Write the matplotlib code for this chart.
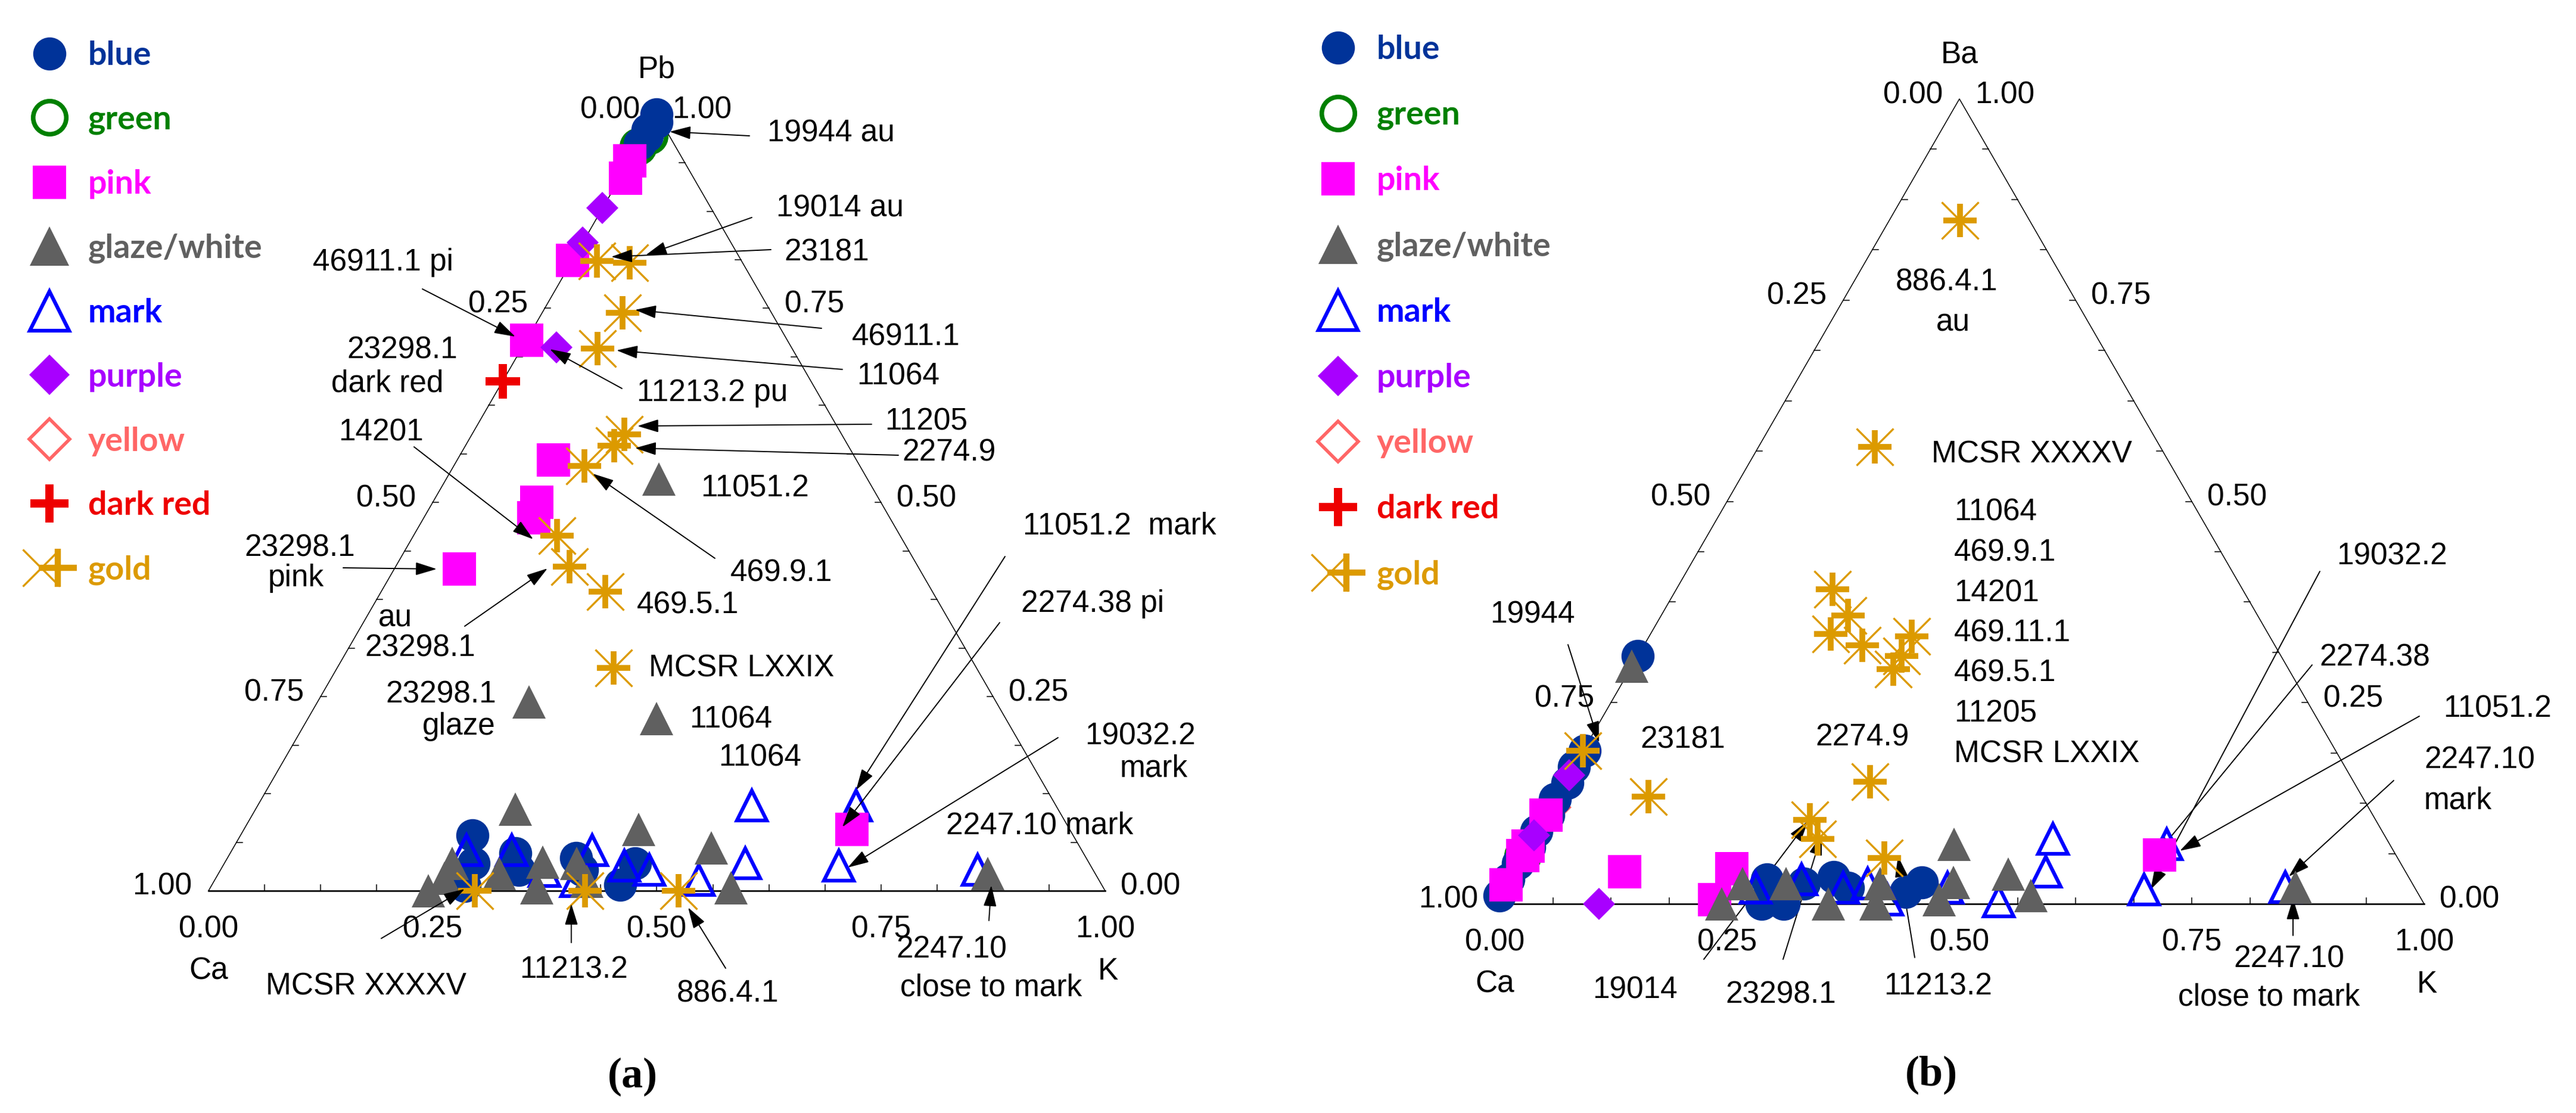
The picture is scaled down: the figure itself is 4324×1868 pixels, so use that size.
import numpy as np
import matplotlib
matplotlib.use("Agg")
import matplotlib.pyplot as plt
from matplotlib.lines import Line2D
from matplotlib.legend_handler import HandlerTuple

plt.rcParams['font.family'] = ['Liberation Sans', 'DejaVu Sans']

FW, FH = 4324, 1868
R3 = np.sqrt(3) / 2

# data
# fractions of K and of the apex element (Pb in a, Ba in b); Ca = 1 - K - apex
a_blue_k = [0.000, 0.005, 0.000, 0.003, 0.000, 0.259, 0.278, 0.283, 0.318, 0.333, 0.389, 0.403, 0.455, 0.458]
a_blue_pb = [1.000, 0.990, 0.980, 0.972, 0.962, 0.071, 0.035, 0.006, 0.048, 0.027, 0.042, 0.027, 0.008, 0.035]
a_green_k = [0.000, 0.006]
a_green_pb = [0.958, 0.972]
a_pink_k = [0.000, 0.006, 0.000, 0.000, 0.107, 0.116, 0.123, 0.073, 0.678]
a_pink_pb = [0.940, 0.918, 0.812, 0.709, 0.555, 0.500, 0.480, 0.414, 0.079]
a_glaze_k = [0.237, 0.236, 0.389, 0.290, 0.245, 0.254, 0.313, 0.364, 0.354, 0.393, 0.416, 0.440, 0.533, 0.581, 0.858, 0.255]
a_glaze_pb = [0.530, 0.243, 0.222, 0.105, 0.000, 0.035, 0.022, 0.004, 0.037, 0.035, 0.012, 0.079, 0.055, 0.004, 0.022, 0.016]
a_mark_k = [0.262, 0.312, 0.362, 0.404, 0.402, 0.448, 0.478, 0.540, 0.581, 0.551, 0.687, 0.667, 0.844]
a_mark_pb = [0.052, 0.052, 0.025, 0.012, 0.052, 0.032, 0.027, 0.014, 0.035, 0.110, 0.032, 0.110, 0.027]
a_purple_k = [0.000, 0.000, 0.038]
a_purple_pb = [0.879, 0.835, 0.700]
a_yellow_k = [0.004]
a_yellow_pb = [0.975]
a_red_k = [0.000]
a_red_pb = [0.656]
a_gold_k = [0.028, 0.065, 0.090, 0.085, 0.170, 0.166, 0.146, 0.160, 0.194, 0.250, 0.308, 0.297, 0.420, 0.524]
a_gold_pb = [0.811, 0.809, 0.744, 0.698, 0.588, 0.573, 0.547, 0.457, 0.417, 0.385, 0.287, 0.000, 0.000, 0.000]

b_blue_k = [0.000, 0.002, 0.000, 0.003, 0.000, 0.003, 0.000, 0.002, 0.000, 0.000, 0.000, 0.278, 0.287, 0.320, 0.348, 0.446, 0.311, 0.435, 0.370]
b_blue_ba = [0.308, 0.190, 0.170, 0.150, 0.130, 0.110, 0.090, 0.070, 0.050, 0.030, 0.010, 0.030, 0.000, 0.025, 0.033, 0.027, 0.000, 0.015, 0.020]
b_green_k = [0.000]
b_green_ba = [0.060]
b_pink_k = [0.000, 0.000, 0.000, 0.000, 0.120, 0.233, 0.234, 0.685]
b_pink_ba = [0.110, 0.072, 0.060, 0.024, 0.040, 0.044, 0.005, 0.061]
b_glaze_k = [0.000, 0.244, 0.254, 0.301, 0.359, 0.402, 0.410, 0.476, 0.457, 0.480, 0.534, 0.572, 0.851]
b_glaze_ba = [0.295, 0.000, 0.025, 0.025, 0.000, 0.025, 0.000, 0.005, 0.074, 0.027, 0.037, 0.010, 0.021]
b_mark_k = [0.271, 0.315, 0.389, 0.365, 0.420, 0.477, 0.541, 0.573, 0.560, 0.690, 0.686, 0.840]
b_mark_ba = [0.020, 0.030, 0.025, 0.020, 0.005, 0.020, 0.003, 0.040, 0.081, 0.018, 0.074, 0.021]
b_purple_k = [0.000, 0.000, 0.112]
b_purple_ba = [0.160, 0.085, 0.000]
b_yellow_k = [0.000, 0.003]
b_yellow_ba = [0.095, 0.120]
b_red_k = []
b_red_ba = []
b_gold_k = [0.076, 0.125, 0.168, 0.201, 0.194, 0.235, 0.283, 0.284, 0.283, 0.328, 0.099, 0.287, 0.307, 0.391, 0.000]
b_gold_ba = [0.849, 0.568, 0.391, 0.358, 0.335, 0.321, 0.332, 0.308, 0.292, 0.152, 0.133, 0.104, 0.081, 0.057, 0.190]

cats = ['blue', 'green', 'pink', 'glaze/white', 'mark', 'purple', 'yellow', 'dark red', 'gold']
colors = {'blue': '#003399', 'green': '#008000', 'pink': '#FF00FF', 'glaze/white': '#606060',
          'mark': '#0000FF', 'purple': '#A800FF', 'yellow': '#FF6666', 'dark red': '#EE0000',
          'gold': '#DC9A00'}

a_data = {'blue': (a_blue_k, a_blue_pb), 'green': (a_green_k, a_green_pb), 'pink': (a_pink_k, a_pink_pb),
          'glaze/white': (a_glaze_k, a_glaze_pb), 'mark': (a_mark_k, a_mark_pb),
          'purple': (a_purple_k, a_purple_pb), 'yellow': (a_yellow_k, a_yellow_pb),
          'dark red': (a_red_k, a_red_pb), 'gold': (a_gold_k, a_gold_pb)}
b_data = {'blue': (b_blue_k, b_blue_ba), 'green': (b_green_k, b_green_ba), 'pink': (b_pink_k, b_pink_ba),
          'glaze/white': (b_glaze_k, b_glaze_ba), 'mark': (b_mark_k, b_mark_ba),
          'purple': (b_purple_k, b_purple_ba), 'yellow': (b_yellow_k, b_yellow_ba),
          'dark red': (b_red_k, b_red_ba), 'gold': (b_gold_k, b_gold_ba)}

# annotation layout (image pixels, text centre)
a_texts = [("19944 au", 1395, 218), ("19014 au", 1410, 344), ("23181", 1388, 419),
           ("46911.1 pi", 643, 435), ("23298.1", 675, 583), ("dark red", 650, 638),
           ("46911.1", 1521, 560), ("11064", 1508, 626), ("11213.2 pu", 1196, 654),
           ("14201", 640, 720), ("11205", 1555, 703), ("2274.9", 1593, 755),
           ("11051.2", 1267, 815), ("11051.2  mark", 1879, 878), ("23298.1", 503, 914),
           ("pink", 497, 965), ("469.9.1", 1312, 956), ("469.5.1", 1155, 1011),
           ("2274.38 pi", 1834, 1008), ("au", 663, 1033), ("23298.1", 705, 1082),
           ("MCSR LXXIX", 1245, 1116), ("23298.1", 740, 1161), ("glaze", 770, 1214),
           ("11064", 1227, 1202), ("19032.2", 1914, 1230), ("mark", 1937, 1285),
           ("11064", 1276, 1267), ("2247.10 mark", 1745, 1381), ("2247.10", 1597, 1588),
           ("close to mark", 1664, 1652), ("11213.2", 963, 1622), ("MCSR XXXXV", 614, 1650),
           ("886.4.1", 1222, 1662)]
a_arrows = [(1258, 228, 1124, 221), (1262, 365, 1084, 428), (1294, 419, 1026, 431),
            (709, 485, 865, 565), (1379, 551, 1066, 520), (1414, 620, 1035, 588),
            (1044, 652, 923, 586), (695, 750, 895, 905), (1463, 712, 1070, 715),
            (1508, 764, 1066, 752), (1200, 937, 995, 795), (576, 953, 733, 955),
            (780, 1051, 919, 954), (1678, 1045, 1414, 1388), (1687, 934, 1437, 1326),
            (1776, 1238, 1423, 1456), (640, 1575, 780, 1492), (959, 1582, 959, 1517),
            (1218, 1625, 1155, 1523), (1660, 1545, 1664, 1486)]

b_texts = [("886.4.1", 3268, 468), ("au", 3278, 537), ("MCSR XXXXV", 3410, 758),
           ("19944", 2572, 1027), ("23181", 2825, 1236), ("2274.9", 3126, 1233),
           ("19014", 2744, 1656), ("23298.1", 2989, 1665), ("11213.2", 3253, 1650),
           ("2247.10", 3842, 1604), ("close to mark", 3809, 1669), ("19032.2", 4015, 928),
           ("2274.38", 3986, 1098), ("11051.2", 4192, 1184), ("2247.10", 4162, 1270),
           ("mark", 4126, 1338)]
b_block = ["11064", "469.9.1", "14201", "469.11.1", "469.5.1", "11205", "MCSR LXXIX"]
b_arrows = [(2632, 1082, 2684, 1246), (2860, 1610, 3035, 1378), (2993, 1610, 3058, 1400),
            (3214, 1607, 3186, 1437), (3849, 1570, 3849, 1508), (3894, 959, 3610, 1493),
            (3881, 1116, 3617, 1437), (4061, 1202, 3659, 1428), (4018, 1310, 3842, 1471)]

FS = 37
ARROW = dict(arrowstyle='-|>,head_length=0.55,head_width=0.17', color='black', lw=1.4,
             mutation_scale=40, shrinkA=0, shrinkB=0)


def tern(k, t):
    k = np.asarray(k, float)
    t = np.asarray(t, float)
    return k + t / 2, t * R3


def fxy(x, y):
    return x / FW, 1 - y / FH


def style(cat, legend=False):
    c = colors[cat]
    if cat == 'blue':
        return dict(marker='o', ms=40, mfc=c, mec=c, mew=0)
    if cat == 'green':
        return dict(marker='o', ms=40, mfc='none', mec=c, mew=5.5)
    if cat == 'pink':
        return dict(marker='s', ms=40, mfc=c, mec=c, mew=0)
    if cat == 'glaze/white':
        return dict(marker='^', ms=48 if legend else 40, mfc=c, mec=c, mew=0)
    if cat == 'mark':
        return dict(marker='^', ms=48 if legend else 36, mfc='none', mec=c, mew=4.5)
    if cat == 'purple':
        return dict(marker='D', ms=35 if legend else 28, mfc=c, mec=c, mew=0)
    if cat == 'yellow':
        return dict(marker='D', ms=35 if legend else 28, mfc='none', mec=c, mew=4)
    if cat == 'dark red':
        return dict(marker='+', ms=46 if legend else 42, mec=c, mew=10)
    return None


def gold_styles(legend=False):
    c = colors['gold']
    if legend:
        return (dict(marker='x', ms=44, mec=c, mew=2.4), dict(marker='+', ms=46, mec=c, mew=7.5))
    return (dict(marker='x', ms=44, mec=c, mew=2.4), dict(marker='+', ms=40, mec=c, mew=7))


def panel(fig, px0, px1, xl, yb, W, data, top_name):
    ax = fig.add_axes([px0 / FW, 0, (px1 - px0) / FW, 1])
    ax.set_xlim((px0 - xl) / W, (px1 - xl) / W)
    ax.set_ylim((yb - FH) / W, yb / W)
    ax.set_axis_off()

    # triangle frame and ticks
    ax.plot([0, 1], [0, 0], color='k', lw=1.9, zorder=1)
    ax.plot([0, 0.5, 1], [0, R3, 0], color='k', lw=1.1, zorder=1)
    L = 10 / W
    for v in np.arange(1, 16) / 16:
        ax.plot([v, v], [0, L], color='k', lw=1.1, zorder=1)
        x, y = tern(0, v)
        ax.plot([x, x + L], [y, y], color='k', lw=1.1, zorder=1)
        x, y = tern(1 - v, v)
        ax.plot([x - L, x], [y, y], color='k', lw=1.1, zorder=1)
    dy = 19 / W
    for v in [0, 0.25, 0.5, 0.75, 1.0]:
        ax.text(v, -59 / W - dy, f'{v:.2f}', ha='center', va='baseline', fontsize=FS)
        x, y = tern(0, v)
        ax.text(x - 78 / W, y + 12 / W - dy, f'{1 - v:.2f}', ha='center', va='baseline', fontsize=FS)
        x, y = tern(1 - v, v)
        ax.text(x + 76 / W, y + 12 / W - dy, f'{v:.2f}', ha='center', va='baseline', fontsize=FS)
    ax.text(0.5, R3 + 80 / W - dy, top_name, ha='center', va='baseline', fontsize=FS)
    ax.text(0, -130 / W - dy, 'Ca', ha='center', va='baseline', fontsize=FS)
    ax.text(1.003, -130 / W - dy, 'K', ha='center', va='baseline', fontsize=FS)

    order = ['green', 'yellow', 'blue', 'mark', 'pink', 'glaze/white', 'purple', 'dark red', 'gold']
    for z, cat in enumerate(order):
        kk, tt = data[cat]
        if len(kk) == 0:
            continue
        x, y = tern(kk, tt)
        if cat == 'gold':
            for st in gold_styles():
                ax.plot(x, y, ls='none', zorder=3 + z, **st)
        else:
            ax.plot(x, y, ls='none', zorder=3 + z, **style(cat))
    return ax


def legend(fig, xh, ytop, spacing):
    handles = []
    for cat in cats:
        if cat == 'gold':
            h = tuple(Line2D([], [], ls='none', **st) for st in gold_styles(True))
        else:
            h = Line2D([], [], ls='none', **style(cat, True))
        handles.append(h)
    leg = fig.legend(handles, cats, loc='upper left', bbox_to_anchor=fxy(xh, ytop),
                     frameon=False, borderpad=0, borderaxespad=0, handlelength=1.0,
                     handletextpad=0.67, labelspacing=spacing, numpoints=1,
                     prop=dict(family='Lato', weight='bold', size=40),
                     handler_map={tuple: HandlerTuple(ndivide=None)})
    for t, cat in zip(leg.get_texts(), cats):
        t.set_color(colors[cat])


def label(fig, s, x, y, ha='center'):
    fig.text(*fxy(x, y + 19), s, ha=ha, va='baseline', fontsize=FS)


fig = plt.figure(figsize=(FW / 100, FH / 100), dpi=100)

ax_a = panel(fig, 0, 2162, 350, 1495, 1505, a_data, 'Pb')
ax_b = panel(fig, 2162, 4324, 2509, 1517, 1560, b_data, 'Ba')

legend(fig, 55, 68, 1.04)
legend(fig, 2218, 58, 1.08)

for s, x, y in a_texts + b_texts:
    label(fig, s, x, y)
for i, s in enumerate(b_block):
    label(fig, s, 3280, 855 + 67.5 * i, ha='left')

for x0, y0, x1, y1 in a_arrows + b_arrows:
    ax_a.annotate('', xy=fxy(x1, y1), xycoords='figure fraction',
                  xytext=fxy(x0, y0), textcoords='figure fraction', arrowprops=ARROW, zorder=20)

fig.text(*fxy(1062, 1807), '(a)', ha='center', va='center', fontsize=52,
         family='Liberation Serif', weight='bold')
fig.text(*fxy(3242, 1804), '(b)', ha='center', va='center', fontsize=52,
         family='Liberation Serif', weight='bold')

fig.savefig('out.png', dpi=100, facecolor='white')
